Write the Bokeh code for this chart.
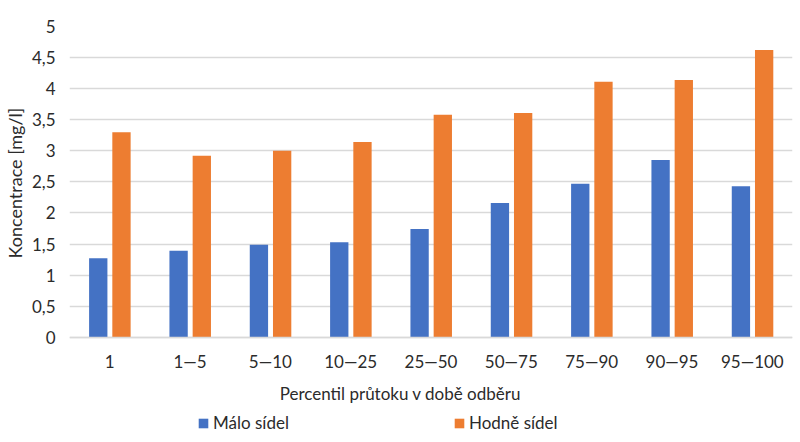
from bokeh.plotting import figure
from bokeh.models import (ColumnDataSource, FactorRange, Range1d, FixedTicker,
                          CustomJSTickFormatter, Legend, LegendItem, Title, Label)
from bokeh.transform import dodge
from bokeh.embed import file_html
from bokeh.resources import INLINE

categories = ["1", "1—5", "5—10", "10—25", "25—50", "50—75", "75—90", "90—95", "95—100"]
malo_sidel = [1.27, 1.39, 1.49, 1.53, 1.74, 2.16, 2.47, 2.85, 2.43]
hodne_sidel = [3.30, 2.92, 3.00, 3.14, 3.58, 3.61, 4.11, 4.14, 4.62]
y_ticks = [0, 0.5, 1, 1.5, 2, 2.5, 3, 3.5, 4, 4.5, 5]

FONT = "Lato"
TXT = "#2b2b2b"
BLUE = "#4472C4"
ORANGE = "#ED7D31"
GRID = "#d9d9d9"

src = ColumnDataSource(dict(cat=categories, malo=malo_sidel, hodne=hodne_sidel))

# frame extends to the bottom edge so that the title and legend below the
# axis sit inside it; the category axis is pinned at y = 0
p = figure(width=800, height=442, x_range=FactorRange(*categories),
           y_range=Range1d(-1.694, 5), output_backend="svg", toolbar_location=None,
           min_border_left=69, min_border_right=8, min_border_top=26,
           min_border_bottom=0)
p.outline_line_color = None

r1 = p.vbar(x=dodge("cat", -0.142, range=p.x_range), top="malo", width=0.228,
            source=src, fill_color=BLUE, line_color=None)
r2 = p.vbar(x=dodge("cat", 0.147, range=p.x_range), top="hodne", width=0.228,
            source=src, fill_color=ORANGE, line_color=None)

p.xgrid.grid_line_color = None
p.ygrid.grid_line_color = GRID
p.ygrid.grid_line_width = 1.3
p.ygrid.ticker = FixedTicker(ticks=y_ticks)

p.yaxis.ticker = FixedTicker(ticks=y_ticks)
p.yaxis.formatter = CustomJSTickFormatter(code="return tick.toString().replace('.', ',')")
p.yaxis.axis_line_color = None
p.yaxis.major_tick_line_color = None
p.yaxis.minor_tick_line_color = None
p.yaxis.major_label_standoff = 8

p.xaxis.fixed_location = 0
p.xaxis.axis_line_color = GRID
p.xaxis.axis_line_width = 1.3
p.xaxis.major_tick_line_color = None
p.xaxis.minor_tick_line_color = None
p.xaxis.major_label_standoff = 8

for ax in (p.xaxis, p.yaxis):
    ax.major_label_text_font = FONT
    ax.major_label_text_font_size = "17px"
    ax.major_label_text_color = TXT

p.add_layout(Title(text="Koncentrace [mg/l]", align="left", offset=184,
                   vertical_align="middle",
                   text_font=FONT, text_font_size="18px", text_font_style="normal",
                   text_color=TXT, standoff=3), "left")

p.add_layout(Label(x=4.12, y=-0.91, text="Percentil průtoku v době odběru",
                   text_font=FONT, text_font_size="17px", text_color=TXT,
                   text_align="center", text_baseline="middle"))

legend = Legend(items=[LegendItem(label="Málo sídel", renderers=[r1]),
                       LegendItem(label="Hodně sídel", renderers=[r2])],
                orientation="horizontal", location=(128, 9),
                glyph_width=12, glyph_height=12, label_standoff=4, spacing=164,
                label_text_font=FONT, label_text_font_size="17px",
                label_text_color=TXT, padding=0, margin=0,
                border_line_color=None, background_fill_alpha=0,
                label_height=16)
p.add_layout(legend, "center")

open("out.html", "w").write(file_html(p, INLINE))
